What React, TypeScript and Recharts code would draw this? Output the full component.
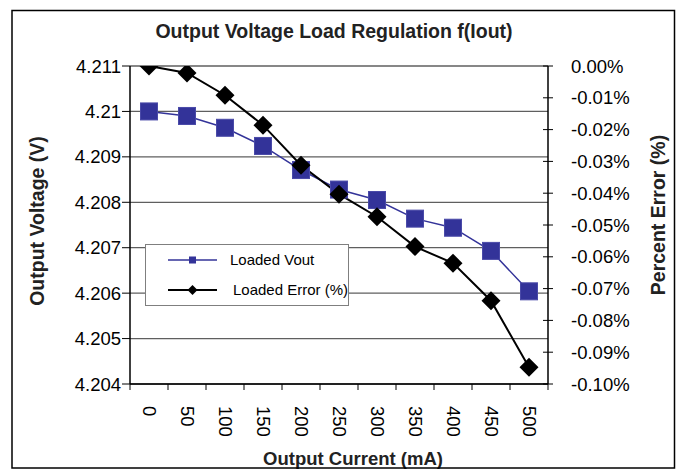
import { ComposedChart, Line, XAxis, YAxis, CartesianGrid, Legend } from 'recharts';

// values
const currents = ['0', '50', '100', '150', '200', '250', '300', '350', '400', '450', '500'];
const loadedVout = [4.21, 4.2099, 4.20964, 4.20924, 4.20871, 4.20828, 4.20805, 4.20764, 4.20744, 4.20693, 4.20604];
const loadedError = [0, -0.0022, -0.0092, -0.0186, -0.0312, -0.0403, -0.0474, -0.0568, -0.062, -0.0738, -0.0947];
const voutTicks = [4.204, 4.205, 4.206, 4.207, 4.208, 4.209, 4.21, 4.211];
const errorTicks = [-0.1, -0.09, -0.08, -0.07, -0.06, -0.05, -0.04, -0.03, -0.02, -0.01, 0];
const legendOrder = ['vout', 'error'];

const data = currents.map((c, i) => ({ current: c, vout: loadedVout[i], error: loadedError[i] }));

const W = 678;
const H = 470;
const LEFT_W = 130;
const RIGHT_W = 130;
const TOP = 66;
const X_H = 86;
const PLOT_W = W - LEFT_W - RIGHT_W;

const X_TICK_SIZE = 6;
const X_TICK_MARGIN = 16;
const R_TICK_SIZE = 5;
const R_TICK_MARGIN = 18;

const BLUE = '#333399';
const FONT = '"Liberation Sans", Arial, sans-serif';
const TICK_FS = 18.5;

function XTick(props: any) {
  const { x, y, payload, index, visibleTicksCount } = props;
  const bw = PLOT_W / visibleTicksCount;
  const axisY = y - X_TICK_SIZE - X_TICK_MARGIN;
  return (
    <g>
      <line x1={x - bw / 2} x2={x - bw / 2} y1={axisY} y2={axisY + X_TICK_SIZE} stroke="#000" />
      {index === visibleTicksCount - 1 && (
        <line x1={x + bw / 2} x2={x + bw / 2} y1={axisY} y2={axisY + X_TICK_SIZE} stroke="#000" />
      )}
      <text
        x={x}
        y={y}
        transform={`rotate(90 ${x} ${y})`}
        textAnchor="start"
        dominantBaseline="central"
        fontSize={TICK_FS}
        fontFamily={FONT}
        fill="#000"
      >
        {payload.value}
      </text>
    </g>
  );
}

function RightTick(props: any) {
  const { x, y, payload } = props;
  const axisX = x - R_TICK_SIZE - R_TICK_MARGIN;
  return (
    <g>
      <line x1={axisX - 5} x2={axisX + 5} y1={y} y2={y} stroke="#000" />
      <text x={x} y={y} dy="0.355em" textAnchor="start" fontSize={TICK_FS} fontFamily={FONT} fill="#000">
        {`${Number(payload.value).toFixed(2)}%`}
      </text>
    </g>
  );
}

const squareDot = (p: any) => (
  <rect key={`sq-${p.index}`} x={p.cx - 8.5} y={p.cy - 8.5} width={17} height={17} fill={BLUE} stroke="#4a4aa8" strokeWidth={1} />
);

const diamondDot = (p: any) => (
  <polygon
    key={`dm-${p.index}`}
    points={`${p.cx},${p.cy - 9.5} ${p.cx + 9.5},${p.cy} ${p.cx},${p.cy + 9.5} ${p.cx - 9.5},${p.cy}`}
    fill="#000"
  />
);

function LegendBox({ payload }: any) {
  const items = [...(payload || [])].sort(
    (a: any, b: any) => legendOrder.indexOf(a.dataKey) - legendOrder.indexOf(b.dataKey)
  );
  return (
    <svg width={202} height={60} style={{ display: 'block' }}>
      {items.map((e: any, i: number) => {
        const y = 15 + i * 30;
        const isVout = e.dataKey === 'vout';
        return (
          <g key={e.value}>
            <line x1={22} x2={71} y1={y} y2={y} stroke={e.color} strokeWidth={isVout ? 1.5 : 2} />
            {isVout ? (
              <rect x={43} y={y - 3.5} width={7} height={7} fill={BLUE} />
            ) : (
              <polygon points={`46.5,${y - 5} 51.5,${y} 46.5,${y + 5} 41.5,${y}`} fill="#000" />
            )}
            <text x={84 + i * 3} y={y + 5} fontSize={15} fontFamily={FONT} fill="#000">
              {e.value}
            </text>
          </g>
        );
      })}
    </svg>
  );
}

export default function App() {
  return (
    <div style={{ position: 'absolute', left: 0, top: 0, width: W, height: H, background: '#fff' }}>
      <ComposedChart width={W} height={H} data={data} margin={{ top: TOP, right: 0, bottom: 0, left: 0 }}>
        <CartesianGrid yAxisId="left" vertical={false} stroke="#5f5f5f" strokeWidth={1.3} />
        <XAxis
          dataKey="current"
          scale="band"
          height={X_H}
          interval={0}
          axisLine={{ stroke: '#000', strokeWidth: 1.5 }}
          tickLine={false}
          tickSize={X_TICK_SIZE}
          tickMargin={X_TICK_MARGIN}
          tick={<XTick />}
        />
        <YAxis
          yAxisId="left"
          orientation="left"
          width={LEFT_W}
          domain={[4.204, 4.211]}
          ticks={voutTicks}
          allowDataOverflow
          tickFormatter={(v: number) => String(Number(v.toFixed(3)))}
          axisLine={{ stroke: '#000', strokeWidth: 1.5 }}
          tickLine={{ stroke: '#000' }}
          tickSize={8}
          tickMargin={1}
          tick={{ fill: '#000', fontSize: TICK_FS, fontFamily: FONT }}
        />
        <YAxis
          yAxisId="right"
          orientation="right"
          width={RIGHT_W}
          domain={[-0.1, 0]}
          ticks={errorTicks}
          allowDataOverflow
          axisLine={{ stroke: '#000', strokeWidth: 1.5 }}
          tickLine={false}
          tickSize={R_TICK_SIZE}
          tickMargin={R_TICK_MARGIN}
          tick={<RightTick />}
        />
        <Line
          yAxisId="left"
          dataKey="vout"
          name="Loaded Vout"
          type="linear"
          stroke={BLUE}
          strokeWidth={1.5}
          dot={squareDot}
          isAnimationActive={false}
        />
        <Line
          yAxisId="right"
          dataKey="error"
          name="Loaded Error (%)"
          type="linear"
          stroke="#000"
          strokeWidth={2}
          dot={diamondDot}
          isAnimationActive={false}
        />
        <Legend
          layout="horizontal"
          align="center"
          verticalAlign="middle"
          width={204}
          height={62}
          content={<LegendBox />}
          wrapperStyle={{
            left: 145,
            top: 244,
            width: 204,
            height: 62,
            background: '#fff',
            border: '1px solid #7f7f7f',
            boxSizing: 'border-box',
          }}
        />
      </ComposedChart>
      <svg width={W} height={H} style={{ position: 'absolute', left: 0, top: 0, pointerEvents: 'none' }}>
        <text x={334} y={38} textAnchor="middle" fontSize={19.5} fontWeight="bold" fontFamily={FONT} fill="#222">
          Output Voltage Load Regulation f(Iout)
        </text>
        <text x={44} y={221} transform="rotate(-90 44 221)" textAnchor="middle" fontSize={19.5} fontWeight="bold" fontFamily={FONT} fill="#222">
          Output Voltage (V)
        </text>
        <text x={665} y={215} transform="rotate(-90 665 215)" textAnchor="middle" fontSize={19.5} fontWeight="bold" fontFamily={FONT} fill="#222">
          Percent Error (%)
        </text>
        <text x={353} y={465} textAnchor="middle" fontSize={18.5} fontWeight="bold" fontFamily={FONT} fill="#222">
          Output Current (mA)
        </text>
        <rect x={12} y={10.5} width={662.5} height={457.5} fill="none" stroke="#000" strokeWidth={1.5} />
      </svg>
    </div>
  );
}
